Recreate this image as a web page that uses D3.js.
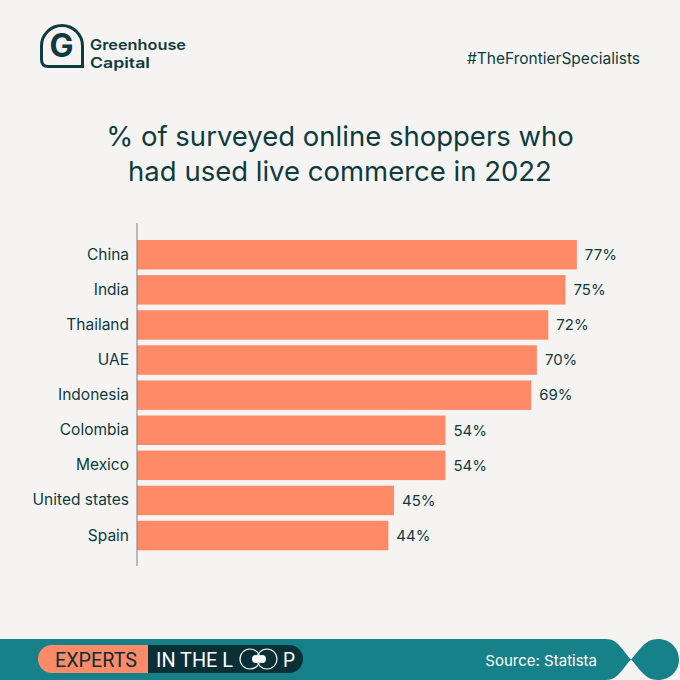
<!DOCTYPE html>
<html>
<head>
<meta charset="utf-8">
<script src="https://cdn.jsdelivr.net/npm/d3@7"></script>
<style>
  html, body { margin: 0; padding: 0; background: #f6f4f2; }
  svg { display: block; font-family: Inter, "Noto Sans", sans-serif; }
</style>
</head>
<body>
<svg id="chart" width="680" height="680"></svg>
<script>
const countries = ["China", "India", "Thailand", "UAE", "Indonesia", "Colombia", "Mexico", "United states", "Spain"];
const shares = [77, 75, 72, 70, 69, 54, 54, 45, 44];
const titleLines = ["% of surveyed online shoppers who", "had used live commerce in 2022"];
const sourceText = "Source: Statista";

const INK = "#0f3a3e";
const BAR = "#fe8a67";
const TEAL = "#17818a";
const NAVY = "#0b2f36";

const svg = d3.select("#chart");

svg.append("rect").attr("width", 680).attr("height", 680).attr("fill", "#f6f4f2");

// logo
const logo = svg.append("g");
logo.append("path")
    .attr("d", "M 41.5 46 A 20.5 20.5 0 0 1 82.5 46 L 82.5 66.5 L 48.5 66.5 Q 41.5 66.5 41.5 59.5 Z")
    .attr("fill", "none")
    .attr("stroke", INK)
    .attr("stroke-width", 3);
logo.append("text")
    .attr("x", 61.5).attr("y", 56.5)
    .attr("text-anchor", "middle")
    .attr("font-size", 32).attr("font-weight", 700)
    .attr("fill", INK)
    .text("G");
logo.selectAll("text.brand")
    .data([{t: "Greenhouse", w: 96}, {t: "Capital", w: 60}])
    .enter()
    .append("text")
    .attr("class", "brand")
    .attr("x", 90)
    .attr("y", (d, i) => 50 + i * 17.5)
    .attr("font-size", 14.5).attr("font-weight", 600)
    .attr("textLength", d => d.w).attr("lengthAdjust", "spacingAndGlyphs")
    .attr("fill", INK)
    .text(d => d.t);

svg.append("text")
    .attr("x", 640).attr("y", 64)
    .attr("text-anchor", "end")
    .attr("font-size", 15.5)
    .attr("fill", INK)
    .text("#TheFrontierSpecialists");

// title
svg.selectAll("text.title")
    .data(titleLines)
    .enter()
    .append("text")
    .attr("class", "title")
    .attr("x", 340)
    .attr("y", (d, i) => 146 + i * 35)
    .attr("text-anchor", "middle")
    .attr("font-size", 27.5)
    .attr("fill", INK)
    .text(d => d);

// chart
const x = d3.scaleLinear().domain([0, 80]).range([137, 594]);
const y = d3.scaleBand()
    .domain(countries)
    .range([237.2, 553.1])
    .paddingInner(0.16)
    .paddingOuter(0.08);

const rows = countries.map((c, i) => ({country: c, value: shares[i]}));

svg.append("g")
    .selectAll("rect")
    .data(rows)
    .enter()
    .append("rect")
    .attr("x", x(0))
    .attr("y", d => y(d.country))
    .attr("width", d => x(d.value) - x(0))
    .attr("height", y.bandwidth())
    .attr("fill", BAR);

const yAxis = svg.append("g")
    .attr("transform", "translate(" + x(0) + ",0)")
    .call(d3.axisLeft(y).tickSize(0).tickPadding(8));
yAxis.select(".domain").remove();
yAxis.selectAll("text")
    .attr("font-family", "Inter, 'Noto Sans', sans-serif")
    .attr("font-size", 15.5)
    .attr("fill", INK);

svg.append("line")
    .attr("x1", x(0)).attr("x2", x(0))
    .attr("y1", 223).attr("y2", 566)
    .attr("stroke", "#7a7f80")
    .attr("stroke-width", 1);

svg.append("g")
    .selectAll("text")
    .data(rows)
    .enter()
    .append("text")
    .attr("x", d => x(d.value) + 8)
    .attr("y", d => y(d.country) + y.bandwidth() / 2)
    .attr("dy", "0.35em")
    .attr("font-size", 15)
    .attr("fill", INK)
    .text(d => d.value + "%");

// footer band
const foot = svg.append("g");
foot.append("path")
    .attr("d", "M 0 639 L 606 639 C 618 639 622 650 631 659.5 C 622 669 618 680 606 680 L 0 680 Z")
    .attr("fill", TEAL);
foot.append("path")
    .attr("d", "M 631 659.5 C 640 650 645 639 658 639 C 670 639 679 648 679 659.5 C 679 671 670 680 658 680 C 645 680 640 669 631 659.5 Z")
    .attr("fill", TEAL);

foot.append("path")
    .attr("d", "M 148 645 L 289 645 A 14 14 0 0 1 289 673 L 148 673 Z")
    .attr("fill", NAVY);
foot.append("path")
    .attr("d", "M 148 645 L 52 645 A 14 14 0 0 0 52 673 L 148 673 Z")
    .attr("fill", BAR);

const badge = [
    {text: "EXPERTS", x: 55, w: 82, color: NAVY},
    {text: "IN THE L", x: 156, w: 77, color: "#ffffff"},
    {text: "P", x: 283, w: 12, color: "#ffffff"}
];
foot.selectAll("text.badge")
    .data(badge)
    .enter()
    .append("text")
    .attr("class", "badge")
    .attr("x", d => d.x).attr("y", 666.5)
    .attr("font-family", "Roboto, sans-serif")
    .attr("font-size", 20.5)
    .attr("textLength", d => d.w).attr("lengthAdjust", "spacingAndGlyphs")
    .attr("fill", d => d.color)
    .text(d => d.text);

// the two "O"s drawn as a loop
[{cx: 250, dot: 256}, {cx: 267, dot: 262}].forEach(o => {
    foot.append("circle")
        .attr("cx", o.cx).attr("cy", 659)
        .attr("r", 10)
        .attr("fill", "none")
        .attr("stroke", "#ffffff")
        .attr("stroke-width", 1.2);
    foot.append("circle")
        .attr("cx", o.dot).attr("cy", 659)
        .attr("r", 4)
        .attr("fill", "#ffffff");
});

foot.append("text")
    .attr("x", 597).attr("y", 666)
    .attr("text-anchor", "end")
    .attr("font-size", 15)
    .attr("fill", "#ffffff")
    .text(sourceText);
</script>
</body>
</html>
